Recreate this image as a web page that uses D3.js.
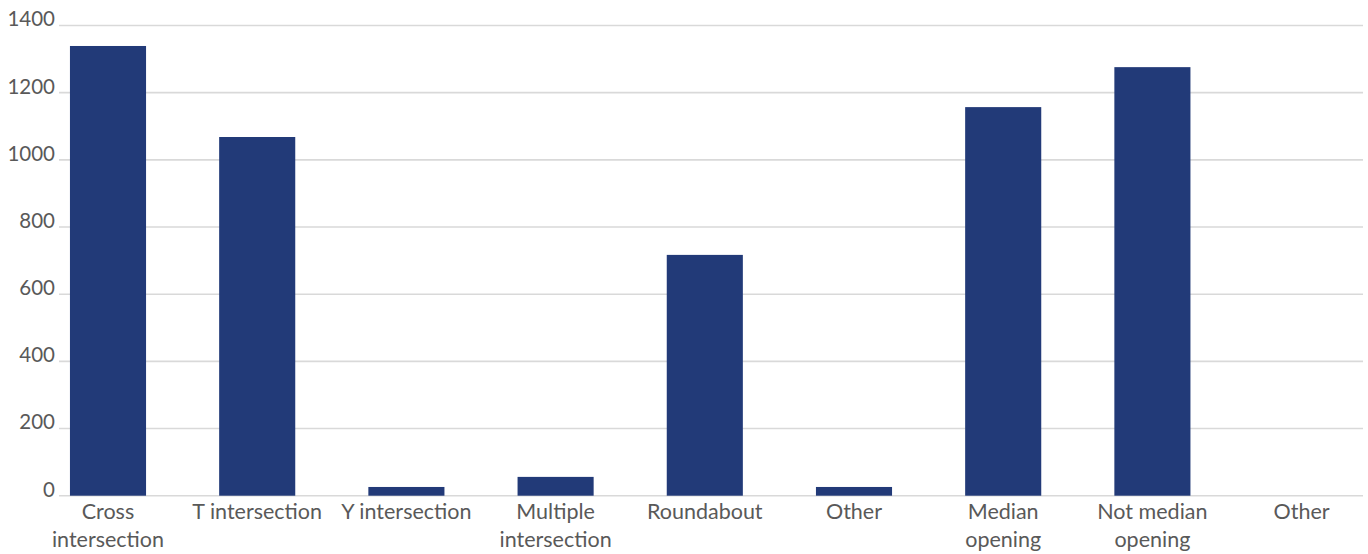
<!DOCTYPE html>
<html>
<head>
<meta charset="utf-8">
<script src="https://cdn.jsdelivr.net/npm/d3@7"></script>
<style>
  html, body { margin: 0; padding: 0; background: #ffffff; }
  svg { display: block; }
  text { font-family: Lato, "Open Sans", sans-serif; fill: #595959; }
</style>
</head>
<body>
<svg id="chart" width="1368" height="554"></svg>
<script>
// Category labels (line breaks as drawn under each bar)
const categories = [
  ["Cross", "intersection"],
  ["T intersection"],
  ["Y intersection"],
  ["Multiple", "intersection"],
  ["Roundabout"],
  ["Other"],
  ["Median", "opening"],
  ["Not median", "opening"],
  ["Other"]
];
// Counts per category
const values = [1339, 1068, 26, 56, 717, 26, 1157, 1276, 0];
// Value axis ticks
const yTicks = [0, 200, 400, 600, 800, 1000, 1200, 1400];

const svg = d3.select("#chart");

const x = d3.scaleBand()
  .domain(d3.range(categories.length))
  .range([33.4, 1376.2])
  .paddingInner(0.49)
  .paddingOuter(0.245);

const y = d3.scaleLinear()
  .domain([0, 1400])
  .range([495.7, 25.5]);

const gridLeft = 59, gridRight = 1363;

// horizontal gridlines
svg.append("g")
  .selectAll("line")
  .data(yTicks)
  .join("line")
  .attr("x1", gridLeft)
  .attr("x2", gridRight)
  .attr("y1", d => y(d))
  .attr("y2", d => y(d))
  .attr("stroke", "#d9d9d9")
  .attr("stroke-width", 1.6);

// value axis labels
const yAxis = d3.axisLeft(y).tickValues(yTicks).tickSize(0).tickPadding(0).tickFormat(d3.format("d"));
const gy = svg.append("g").attr("transform", `translate(${gridLeft - 4},0)`).call(yAxis);
gy.select(".domain").remove();
gy.selectAll("text")
  .attr("font-family", "Lato, 'Open Sans', sans-serif")
  .attr("font-size", 20.5)
  .attr("fill", "#595959")
  .attr("dy", "0.02em");

// bars
svg.append("g")
  .selectAll("rect")
  .data(values)
  .join("rect")
  .attr("x", (d, i) => x(i))
  .attr("width", x.bandwidth())
  .attr("y", d => y(d))
  .attr("height", d => y(0) - y(d))
  .attr("fill", "#223a78");

// category labels
const labels = svg.append("g")
  .selectAll("text")
  .data(categories)
  .join("text")
  .attr("x", (d, i) => x(i) + x.bandwidth() / 2)
  .attr("y", 519)
  .attr("text-anchor", "middle")
  .attr("font-size", 21.5);

labels.selectAll("tspan")
  .data(d => d)
  .join("tspan")
  .attr("x", function () { return d3.select(this.parentNode).attr("x"); })
  .attr("dy", (d, i) => i === 0 ? 0 : 27.5)
  .text(d => d);
</script>
</body>
</html>
